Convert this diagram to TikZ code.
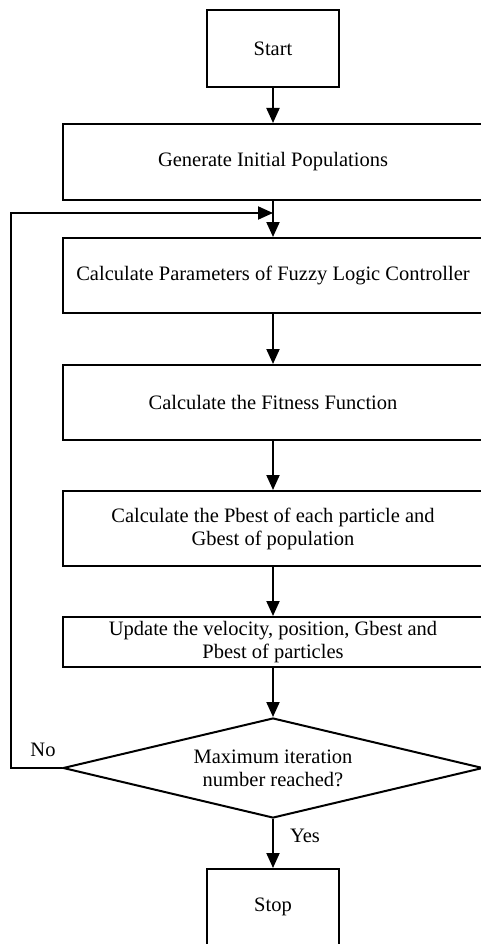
\documentclass[tikz,border=0pt]{standalone}
\usepackage{fontspec}
\setmainfont{Liberation Serif}
\usetikzlibrary{shapes.geometric,arrows.meta}
\begin{document}
\begin{tikzpicture}[x=1pt,y=-1pt,
  every node/.style={font=\fontsize{20.5}{23}\selectfont},
  box/.style={draw,line width=2pt,rectangle,minimum width=420pt,inner sep=0pt,align=center},
  smallbox/.style={draw,line width=2pt,rectangle,minimum width=132pt,minimum height=77pt,inner sep=0pt},
  dec/.style={draw,line width=2pt,diamond,minimum width=420pt,minimum height=100pt,inner sep=0pt,aspect=4.2,align=center},
  conn/.style={line width=2pt,-{Triangle[length=15pt,width=13pt]}},
  lbl/.style={inner sep=0pt}]
\useasboundingbox (0,0) rectangle (481,944);
\fill[white] (0,0) rectangle (481,944);
\node[smallbox] (start) at (273,48.5) {Start};
\node[box,minimum height=76pt] (gen) at (273,162) {Generate Initial Populations};
\node[box,minimum height=75pt] (calc) at (273,275.5) {Calculate Parameters of Fuzzy Logic Controller};
\node[box,minimum height=75pt] (fit) at (273,402.5) {Calculate the Fitness Function};
\node[box,minimum height=75pt] (pbest) at (273,528.5) {Calculate the Pbest of each particle and\\Gbest of population};
\node[box,minimum height=50pt] (upd) at (273,642) {Update the velocity, position, Gbest and\\Pbest of particles};
\node[dec] (dec) at (273,768) {Maximum iteration\\number reached?};
\node[smallbox,minimum height=76pt] (stop) at (273,907) {Stop};
\coordinate (lb) at (11,768);
\coordinate (lt) at (11,213);
\coordinate (lm) at (273,213);
\draw[conn] (start) -- (gen);
\draw[conn] (gen) -- (calc);
\draw[conn] (calc) -- (fit);
\draw[conn] (fit) -- (pbest);
\draw[conn] (pbest) -- (upd);
\draw[conn] (upd) -- (dec);
\draw[conn] (dec) -- (stop);
\draw[conn] (dec.west) -- (lb) -- (lt) -- (lm);
\node[lbl] (no) at (43,750) {No};
\node[lbl] (yes) at (305,836) {Yes};
\end{tikzpicture}
\end{document}
